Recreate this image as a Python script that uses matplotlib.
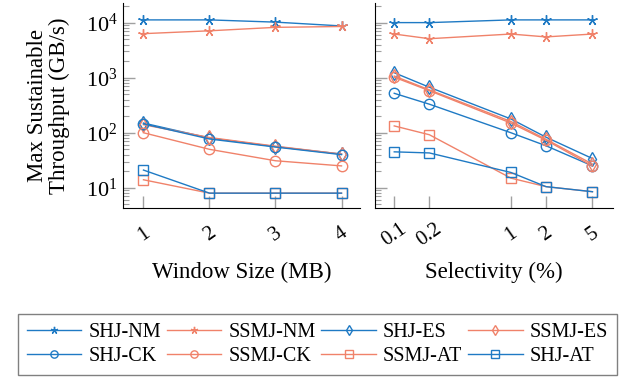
import matplotlib.pyplot as plt
import numpy as np
from matplotlib.ticker import LogLocator, NullFormatter, FixedLocator, FixedFormatter

plt.rcParams['font.family'] = ['Liberation Serif', 'DejaVu Serif']
plt.rcParams['mathtext.fontset'] = 'stix'

# Data
window = [1, 2, 3, 4]
window_labels = ['1', '2', '3', '4']
sel = [0.1, 0.2, 1, 2, 5]
sel_labels = ['0.1', '0.2', '1', '2', '5']

names = ['SHJ-NM', 'SSMJ-NM', 'SHJ-ES', 'SSMJ-ES',
         'SHJ-CK', 'SSMJ-CK', 'SSMJ-AT', 'SHJ-AT']

win_vals = {
    'SHJ-NM':  [11200, 11200, 10200, 8700],
    'SSMJ-NM': [6300, 7100, 8200, 8500],
    'SHJ-ES':  [150, 80, 56, 41],
    'SSMJ-ES': [140, 82, 57, 41],
    'SHJ-CK':  [145, 77, 55, 40],
    'SSMJ-CK': [100, 50, 31, 25],
    'SSMJ-AT': [14, 8, 8, 8],
    'SHJ-AT':  [21, 8, 8, 8],
}

sel_vals = {
    'SHJ-NM':  [10000, 10000, 11200, 11200, 11200],
    'SSMJ-NM': [6200, 5100, 6200, 5500, 6200],
    'SHJ-ES':  [1230, 670, 178, 83, 34],
    'SSMJ-ES': [1070, 600, 160, 76, 27],
    'SHJ-CK':  [520, 330, 100, 58, 25],
    'SSMJ-CK': [1020, 580, 150, 73, 25],
    'SSMJ-AT': [133, 92, 15, 10.5, 8.5],
    'SHJ-AT':  [45, 43, 19, 10.5, 8.5],
}

blue = '#1f7ac4'
orange = '#f0826a'
style = {
    'SHJ-NM':  (blue, (5, 2, 0)),
    'SSMJ-NM': (orange, (5, 2, 0)),
    'SHJ-ES':  (blue, 'd'),
    'SSMJ-ES': (orange, 'd'),
    'SHJ-CK':  (blue, 'o'),
    'SSMJ-CK': (orange, 'o'),
    'SSMJ-AT': (orange, 's'),
    'SHJ-AT':  (blue, 's'),
}

fig = plt.figure(figsize=(6.24, 3.83), dpi=100)
ax1 = fig.add_axes([123/624, 1 - 208/383, 237/624, 205/383])
ax2 = fig.add_axes([375/624, 1 - 208/383, 238/624, 205/383])

handles = []
for name in names:
    c, m = style[name]
    h, = ax1.plot(window, win_vals[name], color=c, marker=m, mfc='none',
                  mec=c, ms=7.5, lw=1, mew=1, label=name)
    ax2.plot(sel, sel_vals[name], color=c, marker=m, mfc='none',
             mec=c, ms=7.5, lw=1, mew=1)
    handles.append(h)

for ax in (ax1, ax2):
    ax.set_yscale('log')
    ax.set_ylim(4.3, 22700)
    ax.spines['top'].set_visible(False)
    ax.spines['right'].set_visible(False)
    ax.yaxis.set_major_locator(LogLocator(base=10, numticks=10))
    ax.yaxis.set_minor_locator(LogLocator(base=10, subs=np.arange(2, 10), numticks=10))
    ax.yaxis.set_minor_formatter(NullFormatter())
    ax.tick_params(which='major', direction='in', length=8.5, color='#a0a0a0',
                   width=1, labelsize=16)
    ax.tick_params(which='minor', direction='in', length=4.5, color='#a0a0a0', width=0.8)
    ax.tick_params(axis='x', which='minor', length=0)
    ax.tick_params(axis='x', pad=19, labelsize=15)
    ax.tick_params(axis='y', pad=4)

ax1.set_xlim(0.69, 4.28)
ax1.xaxis.set_major_locator(FixedLocator(window))
ax1.xaxis.set_major_formatter(FixedFormatter(window_labels))

ax2.set_xscale('log')
ax2.set_xlim(0.0684, 7.5)
ax2.xaxis.set_major_locator(FixedLocator(sel))
ax2.xaxis.set_major_formatter(FixedFormatter(sel_labels))
ax2.xaxis.set_minor_locator(FixedLocator([]))
ax2.tick_params(axis='y', labelleft=False)

for ax in (ax1, ax2):
    for lbl in ax.get_xticklabels():
        lbl.set_rotation(35)
        lbl.set_ha('center')
        lbl.set_va('center')

ax1.set_xlabel('Window Size (MB)', fontsize=16.5, va='center')
ax2.set_xlabel('Selectivity (%)', fontsize=16.5, va='center')
ax1.xaxis.set_label_coords(0.5, -0.312)
ax2.xaxis.set_label_coords(0.5, -0.312)
ax1.set_ylabel('Max Sustainable\nThroughput (GB/s)', fontsize=16.5,
               va='center', linespacing=1.05)
ax1.yaxis.set_label_coords(-0.313, 0.5)

# legend filled row by row like the original
order = [0, 4, 1, 5, 2, 6, 3, 7]
fig.legend(handles=[handles[i] for i in order], loc='lower left', ncol=4,
           mode='expand', bbox_to_anchor=(18/624, 8/383, 599/624, 63/383),
           fontsize=14.5, frameon=True, fancybox=False, edgecolor='#606060',
           handlelength=2.7, handletextpad=0.35, columnspacing=0.3,
           borderaxespad=0, borderpad=0.45, labelspacing=0.25, markerscale=0.7)

fig.savefig('out.png', dpi=100)
